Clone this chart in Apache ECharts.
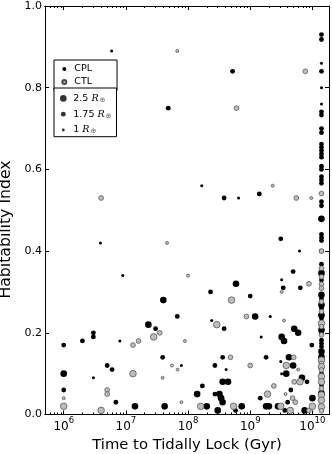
<!DOCTYPE html>
<html>
<head>
<meta charset="utf-8">
<script src="https://cdn.jsdelivr.net/npm/echarts@6/dist/echarts.min.js"></script>
<style>
html, body { margin: 0; padding: 0; background: #fff; }
#chart { width: 332px; height: 454px; }
</style>
</head>
<body>
<div id="chart"></div>
<script>
// CPL planets (black): lock time (yr), habitability, radius (R_earth)
var cplTime = [5.9e6, 5.2e8, 4.8e7, 1.66e8, 3.8e8, 6.5e8, 1.4e9, 3.1e9, 6.2e9, 4.9e9,
  3.2e9, 5.9e8, 3.9e6, 8.9e6, 4.0e7, 1e6, 2e6, 3e6, 3e6, 8e6,
  2.3e7, 3e7, 3.9e7, 1e6, 5e6, 6e6, 3e6, 1e6, 6.9e6, 1.4e7,
  4.2e7, 3.4e9, 6.4e9, 2.3e8, 1.0e9, 6.7e7, 1.2e9, 2.1e9, 2.4e8, 3.8e8,
  5.1e9, 5.9e9, 1.5e9, 3.2e9, 3.5e9, 9.8e9, 7.8e7, 3.6e8, 2.7e8, 4.1e8,
  1.8e9, 3.1e9, 4.2e9, 4.9e9, 3.2e9, 3.8e9, 6.8e9, 8.2e9, 4.5e9, 4.0e9,
  1e10, 1.45e9, 1.8e9, 2.0e9, 2.8e9, 3.6e9, 7.5e9, 3.6e8, 4.4e8, 1.7e8,
  1.4e8, 2.7e8, 3.2e8, 3.4e8, 3.6e8, 2e8, 3e8, 7.3e8, 5.8e8];
var cplHab = [0.89, 0.84, 0.75, 0.56, 0.53, 0.53, 0.54, 0.43, 0.40, 0.35,
  0.33, 0.32, 0.42, 0.34, 0.28, 0.17, 0.18, 0.20, 0.19, 0.18,
  0.22, 0.21, 0.14, 0.10, 0.12, 0.11, 0.09, 0.06, 0.03, 0.02,
  0.02, 0.31, 0.31, 0.30, 0.29, 0.24, 0.24, 0.24, 0.23, 0.21,
  0.21, 0.20, 0.19, 0.19, 0.18, 0.17, 0.12, 0.14, 0.12, 0.11,
  0.14, 0.13, 0.14, 0.12, 0.10, 0.10, 0.09, 0.08, 0.06, 0.03,
  0.04, 0.04, 0.02, 0.02, 0.02, 0.01, 0.01, 0.08, 0.08, 0.07,
  0.05, 0.05, 0.05, 0.04, 0.03, 0.02, 0.01, 0.02, 0.01];
var cplRad = [1, 1.75, 1.75, 1, 1.75, 1, 1.75, 1.75, 1, 1.75,
  1, 2.5, 1, 1, 2.5, 1.75, 1.75, 1.75, 1.75, 1,
  2.5, 1.75, 1.75, 2.5, 1.75, 1.75, 1, 1.75, 1.75, 2.5,
  2.5, 1.75, 1.75, 1.75, 1.75, 1.75, 2.5, 1, 1, 1.75,
  2.5, 2.5, 1, 2.5, 2.5, 1.75, 1, 1.75, 1.75, 1,
  1.75, 1, 2.5, 2.5, 1, 2.5, 2.5, 1.75, 1.75, 1.75,
  2.5, 1.75, 2.5, 2.5, 2.5, 1.75, 2.5, 2.5, 2.5, 1.75,
  2.5, 1.75, 2.5, 2.5, 2.5, 2.5, 2.5, 2.5, 1.75];

// planets that never lock within the age limit pile up at the right edge
var edgeTime = 1.4e10;
var cplEdgeHab = [0.93, 0.918, 0.86, 0.84, 0.80, 0.76, 0.741, 0.733, 0.70, 0.69,
  0.662, 0.654, 0.646, 0.638, 0.63, 0.608, 0.60, 0.582, 0.574, 0.566,
  0.521, 0.511, 0.479, 0.441, 0.433, 0.426, 0.40, 0.368, 0.346, 0.329,
  0.293, 0.284, 0.268, 0.26, 0.243, 0.235, 0.207, 0.199, 0.182, 0.174,
  0.166, 0.154, 0.141, 0.10, 0.088, 0.072, 0.052];
var cplEdgeRad = [1.75, 1.75, 1, 1.75, 1, 1, 1.75, 1.75, 1.75, 1.75,
  1.75, 1.75, 1.75, 1.75, 1.75, 1.75, 1.75, 1.75, 1.75, 1.75,
  1.75, 1.75, 2.5, 1.75, 1.75, 1.75, 1.75, 1.75, 2.5, 1.75,
  2.5, 1.75, 2.5, 1.75, 2.5, 1.75, 2.5, 1.75, 1.75, 1.75,
  1.75, 2.5, 2.5, 1.75, 1.75, 1.75, 2.5];

// CTL planets (grey)
var ctlTime = [4e6, 6.7e7, 7.7e9, 6e8, 2.3e9, 5.5e9, 9.6e9, 8.8e9, 1.0e8, 4.6e7,
  1.3e7, 1.6e7, 2.8e7, 3.5e7, 3.9e7, 1.3e7, 1e6, 1e6, 5e6, 5e6,
  4e6, 3.2e9, 5e8, 8.7e8, 2.9e8, 3.5e9, 8.9e7, 5.5e7, 6.8e7, 4.8e8,
  1.0e9, 5e9, 3.8e9, 5.9e9, 5.1e9, 6.3e9, 2.4e9, 1.9e9, 3.7e9, 4.8e9,
  5.3e9, 3.1e9, 4.4e9, 8.8e9, 1e10, 7.8e7, 1.6e8, 5.4e8];
var ctlHab = [0.53, 0.89, 0.84, 0.75, 0.56, 0.53, 0.53, 0.32, 0.34, 0.42,
  0.17, 0.18, 0.19, 0.20, 0.09, 0.10, 0.04, 0.02, 0.06, 0.05,
  0.01, 0.30, 0.28, 0.24, 0.22, 0.23, 0.18, 0.12, 0.11, 0.14,
  0.12, 0.14, 0.12, 0.11, 0.08, 0.08, 0.07, 0.05, 0.05, 0.04,
  0.03, 0.02, 0.01, 0.01, 0.02, 0.03, 0.02, 0.02];
var ctlRad = [1.75, 1, 1.75, 1.75, 1, 1.75, 1, 1.75, 1, 1,
  1.75, 1.75, 2.5, 1.75, 1, 2.5, 1, 2.5, 1.75, 1.75,
  2.5, 1, 2.5, 1.75, 2.5, 1, 1, 1, 1, 1.75,
  1.75, 1.75, 2.5, 1, 1.75, 2.5, 1.75, 2.5, 1, 1.75,
  1.75, 2.5, 2.5, 1.75, 2.5, 1, 2.5, 2.5];
var ctlEdgeHab = [0.541, 0.40, 0.358, 0.337, 0.319, 0.309, 0.276, 0.252, 0.223, 0.215,
  0.195, 0.133, 0.125, 0.117, 0.109, 0.093, 0.08, 0.064, 0.048, 0.035,
  0.019, 0.009];
var ctlEdgeRad = [1.75, 1.75, 1.75, 1.75, 1.75, 1.75, 1.75, 1.75, 2.5, 1.75,
  1.75, 2.5, 1.75, 2.5, 1.75, 2.5, 2.5, 1.75, 2.5, 2.5,
  2.5, 1.75];

var majorTicks = [1e6, 1e7, 1e8, 1e9, 1e10];
var yTicks = [0, 0.2, 0.4, 0.6, 0.8, 1.0];
var sizeNames = ['2.5 R⊕', '1.75 R⊕', '1 R⊕'];

var xMin = 5e5, xMax = 1.85e10;
var SIZE = { '2.5': 6.6, '1.75': 4.8, '1': 3.0 };

var minorTicks = [];
for (var e = 5; e <= 10; e++) {
  for (var k = 2; k <= 9; k++) {
    var v = k * Math.pow(10, e);
    if (v > xMin && v < xMax) minorTicks.push(v);
  }
}

function pts(t, h, r) {
  return h.map(function (hv, i) { return [Array.isArray(t) ? t[i] : t, hv, r[i]]; });
}
var cplData = pts(cplTime, cplHab, cplRad).concat(pts(edgeTime, cplEdgeHab, cplEdgeRad));
var ctlData = pts(ctlTime, ctlHab, ctlRad).concat(pts(edgeTime, ctlEdgeHab, ctlEdgeRad));

// legend dot of radius r inside a fixed 10x10 box
function dot(r) {
  return 'path://M0 0M10 10M' + (5 - r) + ' 5A' + r + ' ' + r + ' 0 1 0 ' + (5 + r) + ' 5A' +
    r + ' ' + r + ' 0 1 0 ' + (5 - r) + ' 5Z';
}

var font = 'DejaVu Sans';
var black = '#000';

function xAx(pos, ticks, len, main) {
  return {
    type: 'log', logBase: 10, min: xMin, max: xMax, position: pos,
    axisLine: { show: true, onZero: false, lineStyle: { color: black, width: 1 } },
    axisTick: { show: true, inside: true, length: len, customValues: ticks, lineStyle: { color: black, width: 1 } },
    axisLabel: main ? {
      customValues: ticks, margin: 2, color: black, align: 'center',
      formatter: function (val) {
        return '{b|10}{s|' + Math.round(Math.log10(val)) + '}';
      },
      rich: {
        b: { fontSize: 12, fontFamily: font, color: black, lineHeight: 16, verticalAlign: 'bottom' },
        s: { fontSize: 8.5, fontFamily: font, color: black, lineHeight: 8, verticalAlign: 'top' }
      }
    } : { show: false },
    splitLine: { show: false },
    minorTick: { show: false },
    name: main ? 'Time to Tidally Lock (Gyr)' : '',
    nameLocation: 'middle', nameGap: 22.5,
    nameTextStyle: { fontSize: 14.8, fontFamily: font, color: black }
  };
}

function yAx(pos, main) {
  return {
    type: 'value', min: 0, max: 1, interval: 0.2, position: pos,
    axisLine: { show: true, onZero: false, lineStyle: { color: black, width: 1 } },
    axisTick: { show: true, inside: true, length: 4, customValues: yTicks, lineStyle: { color: black, width: 1 } },
    axisLabel: main ? {
      customValues: yTicks, margin: 3, fontSize: 11, fontFamily: font, color: black,
      padding: [4, 0, 0, 0],
      formatter: function (val) { return val.toFixed(1); }
    } : { show: false },
    splitLine: { show: false },
    name: main ? 'Habitability Index' : '',
    nameLocation: 'middle', nameGap: 28,
    nameTextStyle: { fontSize: 15.7, fontFamily: font, color: black, padding: [0, 38.5, 0, 0] }
  };
}

var legendText = {
  fontSize: 9.5, fontFamily: font, color: black, lineHeight: 10,
  rich: {
    r: { fontSize: 9.5, fontFamily: 'DejaVu Serif', fontStyle: 'italic', color: black, lineHeight: 10 },
    o: { fontSize: 7, fontFamily: font, color: '#666', lineHeight: 10, verticalAlign: 'bottom', padding: [3, 0, 0, 1] }
  }
};

var chart = echarts.init(document.getElementById('chart'), null, { renderer: 'canvas' });
chart.setOption({
  animation: false,
  backgroundColor: '#fff',
  textStyle: { fontFamily: font },
  grid: { left: 45, right: 3, top: 6, bottom: 39.5, containLabel: false, outerBoundsMode: 'none' },
  xAxis: [
    xAx('bottom', majorTicks, 4, true),
    xAx('bottom', minorTicks, 2, false),
    xAx('top', majorTicks, 4, false),
    xAx('top', minorTicks, 2, false)
  ],
  yAxis: [yAx('left', true), yAx('right', false)],
  legend: [{
    data: [{ name: 'CPL', icon: dot(2) }, { name: 'CTL', icon: dot(2) }],
    orient: 'vertical', left: 54, top: 60,
    itemWidth: 10, itemHeight: 10, itemGap: 2,
    padding: [4.0, 25, 2.6, 4.3],
    borderColor: black, borderWidth: 1, backgroundColor: '#fff',
    selectedMode: false, textStyle: legendText
  }, {
    data: [
      { name: sizeNames[0], icon: dot(3.3) },
      { name: sizeNames[1], icon: dot(2.4) },
      { name: sizeNames[2], icon: dot(1.4) }
    ],
    orient: 'vertical', left: 54, top: 88,
    itemWidth: 10, itemHeight: 10, itemGap: 5.8,
    padding: [5.4, 5, 1.7, 4.3],
    borderColor: black, borderWidth: 1, backgroundColor: '#fff',
    selectedMode: false, textStyle: legendText,
    formatter: function (name) { return name.replace(' R⊕', ' {r|R}{o|⊕}'); }
  }],
  series: [{
    name: 'CPL', type: 'scatter', symbol: 'circle',
    data: cplData,
    symbolSize: function (val) { return SIZE[String(val[2])]; },
    itemStyle: { color: black, opacity: 1 },
    emphasis: { disabled: true }
  }, {
    name: 'CTL', type: 'scatter', symbol: 'circle',
    data: ctlData,
    symbolSize: function (val) { return SIZE[String(val[2])]; },
    itemStyle: { color: '#bdbdbd', borderColor: '#4a4a4a', borderWidth: 0.7, opacity: 1 },
    emphasis: { disabled: true }
  }].concat(sizeNames.map(function (n) {
    return { name: n, type: 'scatter', data: [], itemStyle: { color: black } };
  }))
});
</script>
</body>
</html>
